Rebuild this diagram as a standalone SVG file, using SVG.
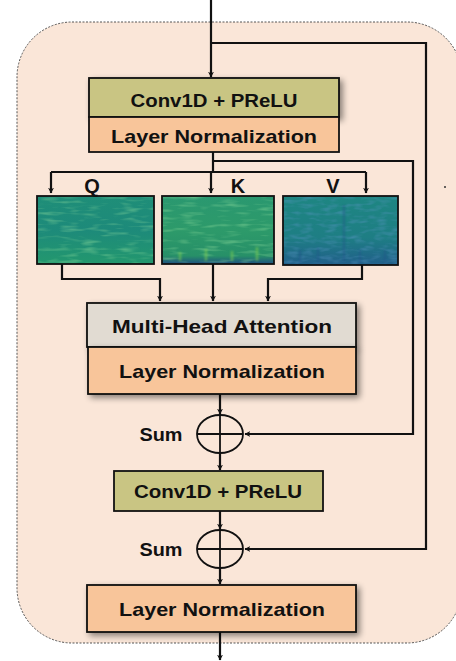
<svg xmlns="http://www.w3.org/2000/svg" width="456" height="661" viewBox="0 0 456 661">
<defs>
<style>
.bx{stroke:#111;stroke-width:1.8}
.olive{fill:#c9c583}
.orange{fill:#f8c59a}
.gray{fill:#e1dbd2}
.t{font-family:"Liberation Sans",Arial,sans-serif;font-weight:bold;fill:#111;text-anchor:middle}
.ln{fill:none;stroke:#111;stroke-width:2.2}
.sum{fill:none;stroke:#111;stroke-width:1.8}
.spec{stroke:#111;stroke-width:1.8}
</style>
<marker id="ah" viewBox="0 0 10 10" refX="9" refY="5" markerWidth="6" markerHeight="6" orient="auto" markerUnits="userSpaceOnUse">
<path d="M0,0 L10,5 L0,10 L3,5 Z" fill="#111"/>
</marker>
<filter id="sh" x="-10%" y="-20%" width="125%" height="150%">
<feGaussianBlur in="SourceAlpha" stdDeviation="3"/>
<feOffset dx="3" dy="3" result="b"/>
<feComponentTransfer><feFuncA type="linear" slope="0.45"/></feComponentTransfer>
<feMerge><feMergeNode/><feMergeNode in="SourceGraphic"/></feMerge>
</filter>
<filter id="noise" x="0" y="0" width="100%" height="100%">
<feTurbulence type="fractalNoise" baseFrequency="0.05 0.25" numOctaves="2" seed="3" result="n"/>
<feColorMatrix in="n" type="matrix" values="0 0 0 0 0.3  0 0 0 0 0.75  0 0 0 0 0.35  0 0 0 1.1 -0.55" result="c"/>
<feComposite in="c" in2="SourceGraphic" operator="in"/>
</filter>
<filter id="noise2" x="0" y="0" width="100%" height="100%">
<feTurbulence type="fractalNoise" baseFrequency="0.08 0.25" numOctaves="2" seed="7" result="n"/>
<feColorMatrix in="n" type="matrix" values="0 0 0 0 0.1  0 0 0 0 0.3  0 0 0 0 0.55  0 0 0 1.1 -0.5" result="c"/>
<feComposite in="c" in2="SourceGraphic" operator="in"/>
</filter>
<filter id="bl"><feGaussianBlur stdDeviation="1"/></filter>
<linearGradient id="gq" x1="0" y1="0" x2="0" y2="1">
<stop offset="0" stop-color="#1f8e78"/><stop offset="0.5" stop-color="#1d8a7a"/><stop offset="1" stop-color="#23986e"/>
</linearGradient>
<linearGradient id="gk" x1="0" y1="0" x2="0" y2="1">
<stop offset="0" stop-color="#2a9870"/><stop offset="0.5" stop-color="#2d9a6a"/><stop offset="0.88" stop-color="#279068"/><stop offset="1" stop-color="#1f4f80"/>
</linearGradient>
<linearGradient id="gv" x1="0" y1="0" x2="0" y2="1">
<stop offset="0" stop-color="#1e8682"/><stop offset="0.6" stop-color="#1e7e84"/><stop offset="1" stop-color="#215f8a"/>
</linearGradient>
</defs>
<rect x="17" y="22" width="445" height="621" rx="55" ry="55" fill="#fae6d8" stroke="#555" stroke-width="1" stroke-dasharray="2,1.5"/>
<circle cx="445" cy="187" r="1" fill="#333"/>
<g id="connectors">
<path class="ln" d="M211,0 V77" marker-end="url(#ah)"/>
<path class="ln" d="M211,43 H426 V549 H245" marker-end="url(#ah)"/>
<path class="ln" d="M213,152 V172"/>
<path class="ln" d="M213,161 H413 V434 H245" marker-end="url(#ah)"/>
<path class="ln" d="M51,172 H366"/>
<path class="ln" d="M51,172 V193" marker-end="url(#ah)"/>
<path class="ln" d="M211,172 V193" marker-end="url(#ah)"/>
<path class="ln" d="M366,172 V193" marker-end="url(#ah)"/>
<path class="ln" d="M62,264 V279 H160 V301" marker-end="url(#ah)"/>
<path class="ln" d="M213,264 V301" marker-end="url(#ah)"/>
<path class="ln" d="M362,264 V279 H268 V301" marker-end="url(#ah)"/>
<path class="ln" d="M220,394 V414" marker-end="url(#ah)"/>
<path class="ln" d="M220,453 V470" marker-end="url(#ah)"/>
<path class="ln" d="M220,511 V529" marker-end="url(#ah)"/>
<path class="ln" d="M220,568 V584" marker-end="url(#ah)"/>
<path class="ln" d="M220,632 V660" marker-end="url(#ah)"/>
</g>
<g id="conv1">
<rect class="bx olive" x="89" y="78" width="250" height="39" filter="url(#sh)"/>
<text class="t" x="214" y="107" font-size="19" textLength="167" lengthAdjust="spacingAndGlyphs">Conv1D + PReLU</text>
</g>
<g id="ln1">
<rect class="bx orange" x="89" y="117" width="250" height="35"/>
<text class="t" x="214" y="143" font-size="19" textLength="206" lengthAdjust="spacingAndGlyphs">Layer Normalization</text>
</g>
<g id="q">
<rect x="37" y="196" width="117" height="68" fill="url(#gq)"/>
<rect x="37" y="196" width="117" height="68" fill="#000" filter="url(#noise)"/>
<rect class="spec" x="37" y="196" width="117" height="68" fill="none"/>
<text class="t" x="92" y="193" font-size="20">Q</text>
</g>
<g id="k">
<rect x="162" y="196" width="112" height="68" fill="url(#gk)"/>
<rect x="162" y="196" width="112" height="68" fill="#000" filter="url(#noise)"/>
<g stroke="#8ad850" stroke-width="2.5" opacity="0.5" filter="url(#bl)">
<path d="M180,252 V261 M206,249 V261 M232,251 V261 M257,247 V261"/>
</g>
<rect class="spec" x="162" y="196" width="112" height="68" fill="none"/>
<text class="t" x="238" y="193" font-size="20">K</text>
</g>
<g id="v">
<rect x="283" y="196" width="115" height="69" fill="url(#gv)"/>
<rect x="283" y="196" width="115" height="69" fill="#000" filter="url(#noise2)"/>
<g stroke="#1b4f86" stroke-width="2" opacity="0.45" filter="url(#bl)">
<path d="M344,205 V262 M300,250 V263 M318,248 V263 M360,250 V263 M385,250 V263"/>
</g>
<rect class="spec" x="283" y="196" width="115" height="69" fill="none"/>
<text class="t" x="333" y="193" font-size="20">V</text>
</g>
<g id="mha">
<rect class="bx gray" x="87" y="303" width="269" height="44" filter="url(#sh)"/>
<text class="t" x="222" y="333" font-size="19" textLength="220" lengthAdjust="spacingAndGlyphs">Multi-Head Attention</text>
</g>
<g id="ln2">
<rect class="bx orange" x="88" y="347" width="268" height="47" filter="url(#sh)"/>
<text class="t" x="222" y="378" font-size="19" textLength="206" lengthAdjust="spacingAndGlyphs">Layer Normalization</text>
</g>
<g id="sum1">
<ellipse class="sum" cx="220" cy="434" rx="23" ry="19"/>
<path class="sum" d="M197,434 H243 M220,415 V453"/>
<text class="t" x="161" y="441" font-size="18" textLength="43" lengthAdjust="spacingAndGlyphs">Sum</text>
</g>
<g id="conv2">
<rect class="bx olive" x="114" y="471" width="209" height="40"/>
<text class="t" x="218" y="498" font-size="19" textLength="168" lengthAdjust="spacingAndGlyphs">Conv1D + PReLU</text>
</g>
<g id="sum2">
<ellipse class="sum" cx="220" cy="549" rx="23" ry="19"/>
<path class="sum" d="M197,549 H243 M220,530 V568"/>
<text class="t" x="161" y="556" font-size="18" textLength="43" lengthAdjust="spacingAndGlyphs">Sum</text>
</g>
<g id="ln3">
<rect class="bx orange" x="87" y="585" width="269" height="47" filter="url(#sh)"/>
<text class="t" x="222" y="616" font-size="19" textLength="206" lengthAdjust="spacingAndGlyphs">Layer Normalization</text>
</g>
</svg>
